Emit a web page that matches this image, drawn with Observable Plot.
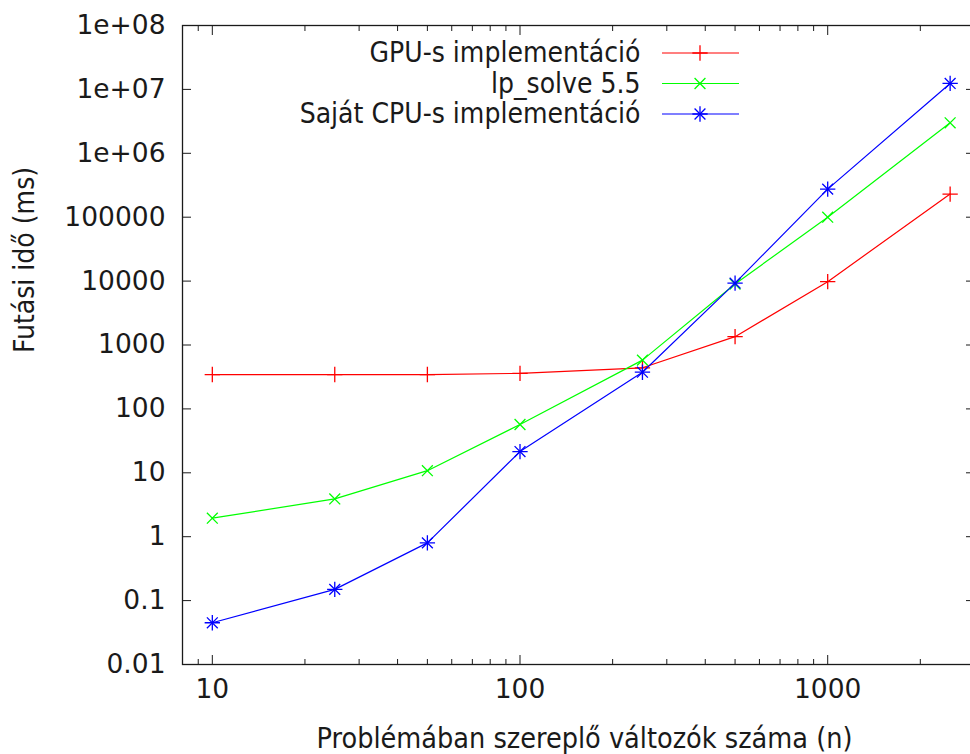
<!DOCTYPE html>
<html><head><meta charset="utf-8">
<script src="https://cdn.jsdelivr.net/npm/d3@7"></script>
<script src="https://cdn.jsdelivr.net/npm/@observablehq/plot@0.6"></script>
<style>
html,body{margin:0;padding:0;background:#fff;overflow:hidden;}
#chart{width:970px;height:754px;overflow:hidden;}
#chart svg{max-width:none !important;}
</style></head><body><div id="chart"></div>
<script>
const n = [10, 25, 50, 100, 250, 500, 1000, 2500];
const gpu = [345, 345, 345, 360, 440, 1350, 9800, 230000];
const lpSolve = [1.95, 3.9, 10.8, 57, 580, 9000, 100000, 3000000];
const cpu = [0.045, 0.15, 0.8, 21.5, 375, 9300, 275000, 12400000];
const seriesNames = ["GPU-s implementáció", "lp_solve 5.5", "Saját CPU-s implementáció"];
const seriesColors = ["#ff0000", "#00ff00", "#0000ff"];
const yTicks = [0.01, 0.1, 1, 10, 100, 1000, 10000, 100000, 1e6, 1e7, 1e8];
const yTickLabels = ["0.01", "0.1", "1", "10", "100", "1000", "10000", "100000", "1e+06", "1e+07", "1e+08"];
const xTicks = [10, 100, 1000];
const xTickLabels = ["10", "100", "1000"];
const xMinorTicks = [9, 20, 30, 40, 50, 60, 70, 80, 90, 200, 300, 400, 500, 600, 700, 800, 900, 2000];
const xLabel = "Problémában szereplő változók száma (n)";
const yLabel = "Futási idő (ms)";

const seriesValues = [gpu, lpSolve, cpu];
const data = [];
seriesValues.forEach((vals, s) => vals.forEach((v, i) => data.push({n: n[i], value: v, series: seriesNames[s]})));
const bySeries = s => data.filter(d => d.series === seriesNames[s]);

const ink = "#1a1a1a";
const tickFont = '"DejaVu Sans", sans-serif';
const labelFont = '"DejaVu Sans Condensed", "DejaVu Sans", sans-serif';

const marks = [
  Plot.frame({stroke: ink, strokeWidth: 1.3}),
  Plot.axisY({ticks: yTicks, anchor: "left", tickSize: 0, tickPadding: 17, tickFormat: d => yTickLabels[yTicks.indexOf(d)], label: null, fill: ink, fontFamily: tickFont, fontSize: 26.5}),
  Plot.axisY({ticks: yTicks, anchor: "left", tickSize: -9, tickFormat: () => "", label: null, stroke: ink}),
  Plot.axisY({ticks: yTicks, anchor: "right", tickSize: -9, tickFormat: () => "", label: null, stroke: ink}),
  Plot.axisX({ticks: xTicks, anchor: "bottom", tickSize: 0, tickPadding: 15, tickFormat: d => xTickLabels[xTicks.indexOf(d)], label: null, fill: ink, fontFamily: tickFont, fontSize: 26.5}),
  Plot.axisX({ticks: xTicks, anchor: "bottom", tickSize: -9, tickFormat: () => "", label: null, stroke: ink}),
  Plot.axisX({ticks: xTicks, anchor: "top", tickSize: -9, tickFormat: () => "", label: null, stroke: ink}),
  Plot.axisX({ticks: xMinorTicks, anchor: "bottom", tickSize: -5, tickFormat: () => "", label: null, stroke: ink}),
  Plot.axisX({ticks: xMinorTicks, anchor: "top", tickSize: -5, tickFormat: () => "", label: null, stroke: ink}),
  Plot.text([yLabel], {text: d => d, frameAnchor: "left", dx: -157, dy: 8, rotate: -90, lineAnchor: "middle", fill: ink, fontFamily: labelFont, fontSize: 28}),
  Plot.text([xLabel], {text: d => d, frameAnchor: "bottom", dy: 74, dx: 6, lineAnchor: "middle", fill: ink, fontFamily: labelFont, fontSize: 28.5}),
  Plot.line(data, {x: "n", y: "value", z: "series", stroke: "series", strokeWidth: 1.2}),
  Plot.dot(bySeries(0), {x: "n", y: "value", symbol: "plus", r: 5, stroke: seriesColors[0], strokeWidth: 1.3}),
  Plot.dot(bySeries(1), {x: "n", y: "value", symbol: "times", r: 5, stroke: seriesColors[1], strokeWidth: 1.3}),
  Plot.dot(bySeries(2), {x: "n", y: "value", symbol: "plus", r: 5, stroke: seriesColors[2], strokeWidth: 1.3}),
  Plot.dot(bySeries(2), {x: "n", y: "value", symbol: "times", r: 5, stroke: seriesColors[2], strokeWidth: 1.3})
];
seriesNames.forEach((name, i) => {
  marks.push(Plot.text([name], {text: d => d, frameAnchor: "top-left", dx: 458, dy: 28 + 30.5 * i, textAnchor: "end", lineAnchor: "middle", fill: ink, fontFamily: labelFont, fontSize: 28}));
});

const svg = Plot.plot({
  width: 975,
  height: 754,
  marginLeft: 182,
  marginRight: 1,
  marginTop: 25,
  marginBottom: 90,
  x: {type: "log", domain: [8, 3000]},
  y: {type: "log", domain: [0.01, 1e8]},
  color: {domain: seriesNames, range: seriesColors},
  style: {fontFamily: labelFont, fontSize: "28px", color: ink, background: "#fff", overflow: "visible", maxWidth: "none"},
  marks
});

// legend samples (line + marker) drawn beside the legend labels
const g = d3.select(svg).append("g").attr("fill", "none").attr("stroke-width", 1.3);
const symbolsPerSeries = [[d3.symbolPlus], [d3.symbolTimes], [d3.symbolPlus, d3.symbolTimes]];
seriesNames.forEach((name, i) => {
  const yy = 25 + 28 + 30.5 * i;
  g.append("line").attr("x1", 662).attr("x2", 739).attr("y1", yy).attr("y2", yy).attr("stroke", seriesColors[i]).attr("stroke-width", 1.2);
  symbolsPerSeries[i].forEach(t => {
    g.append("path").attr("transform", `translate(700,${yy})`)
      .attr("d", d3.symbol().type(t).size(25 * Math.PI)())
      .attr("stroke", seriesColors[i]);
  });
});

document.getElementById("chart").appendChild(svg);
</script></body></html>
